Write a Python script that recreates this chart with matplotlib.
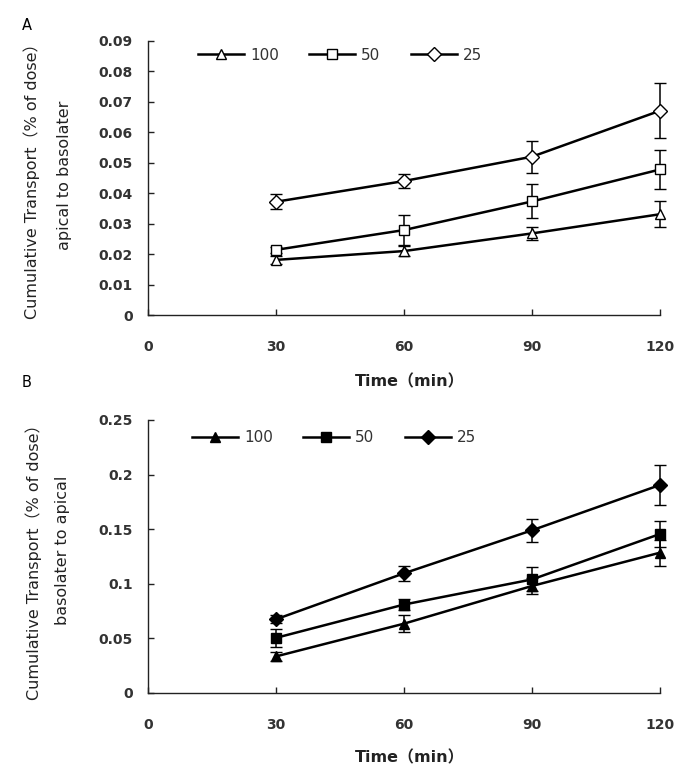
import matplotlib
matplotlib.use("Agg")
import matplotlib.pyplot as plt
from matplotlib.ticker import FuncFormatter, MultipleLocator

plt.rcParams['font.family'] = ['DejaVu Sans', 'Noto Sans CJK SC']

# данные
time = [30, 60, 90, 120]
doses = ["100", "50", "25"]

# A: apical -> basolater
a100 = [0.0181, 0.0210, 0.0268, 0.0331]
a100_err = [0.0012, 0.0017, 0.0021, 0.0042]
a50 = [0.0214, 0.0279, 0.0373, 0.0478]
a50_err = [0.0010, 0.0049, 0.0056, 0.0063]
a25 = [0.0372, 0.0440, 0.0520, 0.0671]
a25_err = [0.0024, 0.0024, 0.0052, 0.0091]

# B: basolater -> apical
b100 = [0.0335, 0.0635, 0.0980, 0.1285]
b100_err = [0.0045, 0.0080, 0.0070, 0.0120]
b50 = [0.0505, 0.0810, 0.1040, 0.1456]
b50_err = [0.0080, 0.0050, 0.0110, 0.0120]
b25 = [0.0675, 0.1096, 0.1490, 0.1905]
b25_err = [0.0035, 0.0070, 0.0105, 0.0180]

W, H = 700, 770
fig = plt.figure(figsize=(7, 7.7), dpi=100)


def px_axes(left, top, right, bottom):
    return fig.add_axes([left / W, 1 - bottom / H, (right - left) / W, (bottom - top) / H])


def fmt(v, pos):
    return "%g" % round(v, 4)


def draw_panel(ax, series, errs, markers, filled, ymax, ystep, leg_x, leg_y):
    for vals, err, m, lab in zip(series, errs, markers, doses):
        face = "black" if filled else "white"
        ax.errorbar(time, vals, yerr=err, color="black", lw=1.8, elinewidth=1.1,
                    capsize=4, capthick=1.1, marker=m, markersize=7 if m != "s" else 6.5,
                    markerfacecolor=face, markeredgecolor="black", markeredgewidth=1.0,
                    label=lab, zorder=3, clip_on=False)
    ax.set_xlim(0, 120)
    ax.set_ylim(0, ymax)
    ax.set_xticks([0, 30, 60, 90, 120])
    ax.yaxis.set_major_locator(MultipleLocator(ystep))
    ax.yaxis.set_major_formatter(FuncFormatter(fmt))
    ax.spines["top"].set_visible(False)
    ax.spines["right"].set_visible(False)
    for s in ["left", "bottom"]:
        ax.spines[s].set_linewidth(1.0)
        ax.spines[s].set_color("#222222")
    ax.tick_params(direction="in", length=4, width=1.0, labelsize=10, colors="#222222",
                   labelcolor="#333333")
    ax.tick_params(axis="x", pad=18)
    ax.tick_params(axis="y", pad=11)
    for t in ax.get_xticklabels() + ax.get_yticklabels():
        t.set_fontweight("bold")
    handles, labels = ax.get_legend_handles_labels()
    handles = [h[0] for h in handles]
    leg = ax.legend(handles, labels, loc="center left", bbox_to_anchor=(leg_x, leg_y), ncol=3,
                    frameon=False, fontsize=11, handlelength=3.0, handletextpad=0.4,
                    columnspacing=2.0, borderpad=0, borderaxespad=0, markerscale=1.0)
    for t in leg.get_texts():
        t.set_color("#333333")


axA = px_axes(148, 41, 660, 315)
draw_panel(axA, [a100, a50, a25], [a100_err, a50_err, a25_err], ["^", "s", "D"], False,
           0.09, 0.01, (198 - 148) / 512, (315 - 55) / 274)

axB = px_axes(148, 420, 660, 693)
draw_panel(axB, [b100, b50, b25], [b100_err, b50_err, b25_err], ["^", "s", "D"], True,
           0.25, 0.05, (192 - 148) / 512, (693 - 438) / 273)

# подписи
fig.text(27 / W, 1 - 25 / H, "A", fontsize=10.5, ha="center", va="center")
fig.text(27 / W, 1 - 382 / H, "B", fontsize=10.5, ha="center", va="center")

fig.text(410 / W, 1 - 382 / H, "Time（min）", fontsize=11.5, fontweight="bold",
         ha="center", va="center", color="#222222")
fig.text(410 / W, 1 - 758 / H, "Time（min）", fontsize=11.5, fontweight="bold",
         ha="center", va="center", color="#222222")

fig.text(32 / W, 1 - 177 / H, "Cumulative Transport（% of dose）", fontsize=11.5,
         rotation=90, ha="center", va="center", color="#222222")
fig.text(64 / W, 1 - 175 / H, "apical to basolater", fontsize=11.5,
         rotation=90, ha="center", va="center", color="#222222")
fig.text(34 / W, 1 - 558 / H, "Cumulative Transport（% of dose）", fontsize=11.5,
         rotation=90, ha="center", va="center", color="#222222")
fig.text(63 / W, 1 - 550 / H, "basolater to apical", fontsize=11.5,
         rotation=90, ha="center", va="center", color="#222222")

fig.savefig("out.png", dpi=100, facecolor="white")
